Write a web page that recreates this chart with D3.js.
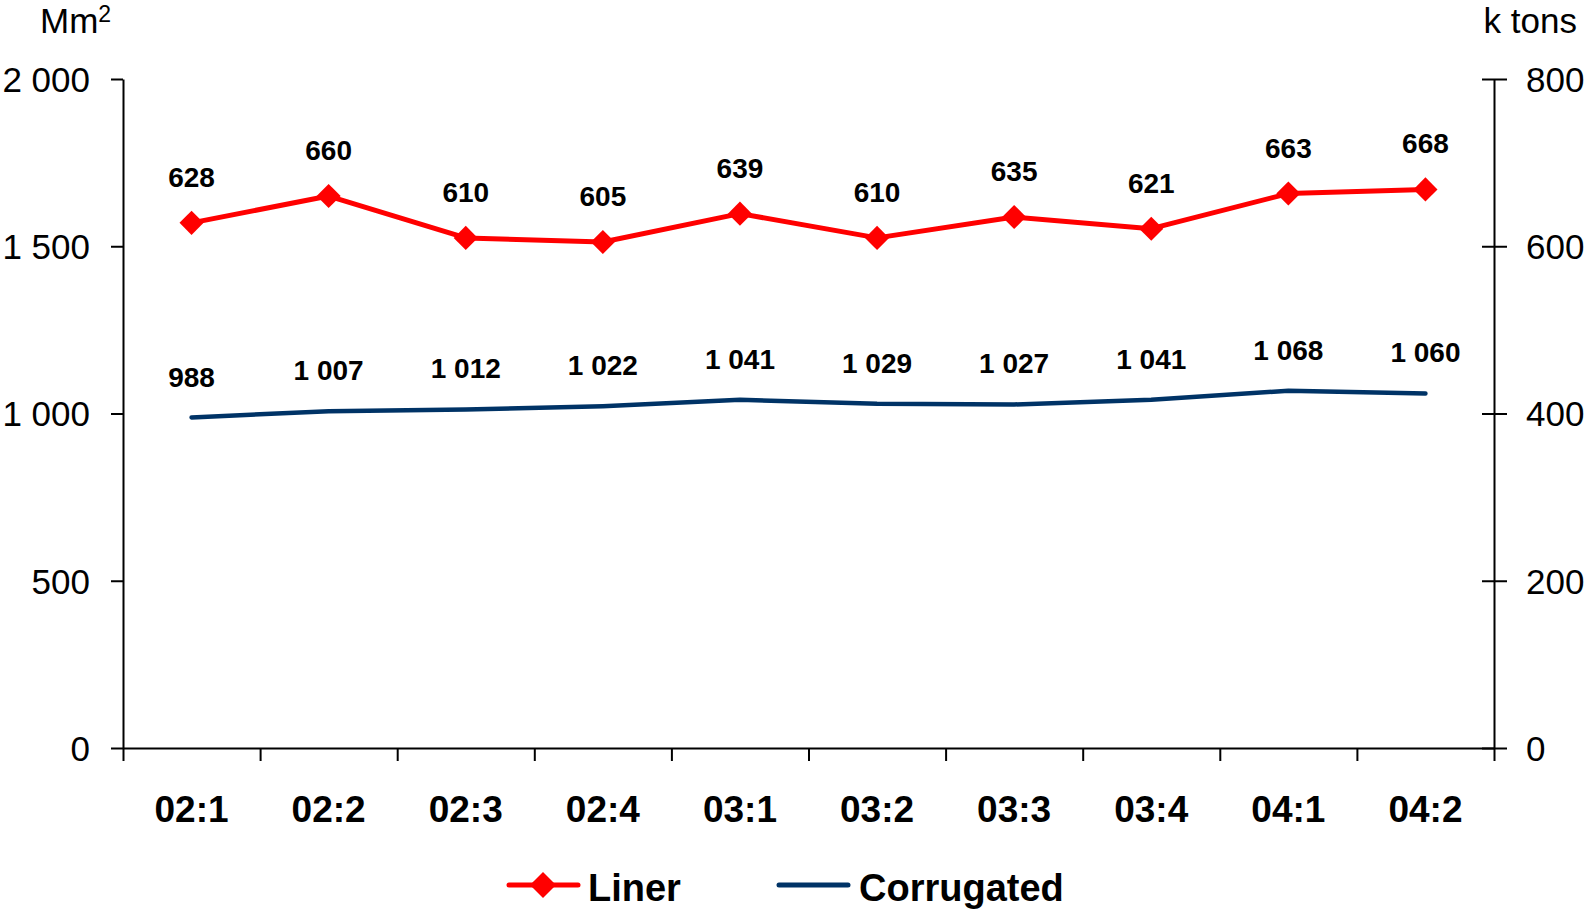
<!DOCTYPE html>
<html>
<head>
<meta charset="utf-8">
<script src="https://cdn.jsdelivr.net/npm/d3@7"></script>
<style>
  html, body { margin: 0; padding: 0; background: #fff; }
  svg { display: block; font-family: "Liberation Sans", Arial, sans-serif; }
</style>
</head>
<body>
<div id="chart"></div>
<script>
// Data
const categories = ['02:1', '02:2', '02:3', '02:4', '03:1', '03:2', '03:3', '03:4', '04:1', '04:2'];
const liner = [628, 660, 610, 605, 639, 610, 635, 621, 663, 668];           // k tons, right axis
const corrugated = [988, 1007, 1012, 1022, 1041, 1029, 1027, 1041, 1068, 1060]; // Mm2, left axis
const leftTicks = [0, 500, 1000, 1500, 2000];
const rightTicks = [0, 200, 400, 600, 800];

const W = 1586, H = 910;
const margin = { top: 79, right: 92, bottom: 162, left: 123 };
const width = W - margin.left - margin.right;
const height = H - margin.top - margin.bottom;

const RED = '#ff0000';
const NAVY = '#003366';

const fmt = d3.formatLocale({ decimal: ',', thousands: ' ', grouping: [3], currency: ['', ''] }).format(',d');

const svg = d3.select('#chart').append('svg')
    .attr('width', W)
    .attr('height', H);

const g = svg.append('g')
    .attr('transform', `translate(${margin.left},${margin.top})`);

// Scales
const x = d3.scaleBand().domain(categories).range([0, width]).paddingInner(0).paddingOuter(0);
const xEdge = d3.scaleLinear().domain([0, categories.length]).range([0, width]);
const yLeft = d3.scaleLinear().domain([0, 2000]).range([height, 0]);
const yRight = d3.scaleLinear().domain([0, 800]).range([height, 0]);
const cx = d => x(d) + x.bandwidth() / 2;

function styleAxis(sel) {
    sel.selectAll('path, line').attr('stroke', '#000').attr('stroke-width', 2);
    sel.selectAll('text').attr('fill', '#000');
}

// Left axis
const leftG = g.append('g')
    .call(d3.axisLeft(yLeft).tickValues(leftTicks).tickFormat(fmt).tickSizeInner(12).tickSizeOuter(0).tickPadding(21))
    .call(styleAxis);
leftG.selectAll('text').attr('font-size', 35).attr('dy', '0.35em');
leftG.attr('font-family', null);

// Right axis (ticks cross the axis line)
const rightG = g.append('g')
    .attr('transform', `translate(${width},0)`)
    .call(d3.axisRight(yRight).tickValues(rightTicks).tickSizeInner(13).tickSizeOuter(0).tickPadding(19))
    .call(styleAxis);
rightG.selectAll('.tick line').attr('x1', -12);
rightG.selectAll('text').attr('font-size', 35).attr('dy', '0.35em');
rightG.attr('font-family', null);

// Bottom axis: ticks on category boundaries
g.append('g')
    .attr('transform', `translate(0,${height})`)
    .call(d3.axisBottom(xEdge).tickValues(d3.range(categories.length + 1)).tickFormat('').tickSizeInner(13).tickSizeOuter(0))
    .call(styleAxis);

// Category labels
const catG = g.append('g')
    .attr('transform', `translate(0,${height})`)
    .call(d3.axisBottom(x).tickSize(0).tickPadding(0));
catG.select('.domain').remove();
catG.attr('font-family', null);
catG.selectAll('text')
    .attr('fill', '#000')
    .attr('font-size', 37)
    .attr('font-weight', 'bold')
    .attr('dy', null)
    .attr('y', 74);

// Unit titles
const unitL = svg.append('text')
    .attr('x', 40).attr('y', 33)
    .attr('font-size', 35)
    .text('Mm');
unitL.append('tspan')
    .attr('font-size', 23)
    .attr('dy', -11)
    .text('2');

svg.append('text')
    .attr('x', 1577).attr('y', 33)
    .attr('text-anchor', 'end')
    .attr('font-size', 35)
    .text('k tons');

// Corrugated line (left axis)
const lineC = d3.line()
    .x((d, i) => cx(categories[i]))
    .y(d => yLeft(d));

g.append('path')
    .datum(corrugated)
    .attr('d', lineC)
    .attr('fill', 'none')
    .attr('stroke', NAVY)
    .attr('stroke-width', 4.5)
    .attr('stroke-linecap', 'round')
    .attr('stroke-linejoin', 'round');

g.append('g').selectAll('text')
    .data(corrugated)
    .join('text')
    .attr('x', (d, i) => cx(categories[i]))
    .attr('y', d => yLeft(d) - 31)
    .attr('text-anchor', 'middle')
    .attr('font-size', 28)
    .attr('font-weight', 'bold')
    .text(d => fmt(d));

// Liner line (right axis)
const lineL = d3.line()
    .x((d, i) => cx(categories[i]))
    .y(d => yRight(d));

g.append('path')
    .datum(liner)
    .attr('d', lineL)
    .attr('fill', 'none')
    .attr('stroke', RED)
    .attr('stroke-width', 5)
    .attr('stroke-linecap', 'round')
    .attr('stroke-linejoin', 'round');

const diamond = d3.symbol(d3.symbolSquare, 290);

g.append('g').selectAll('path')
    .data(liner)
    .join('path')
    .attr('d', diamond)
    .attr('transform', (d, i) => `translate(${cx(categories[i])},${yRight(d)}) rotate(45)`)
    .attr('fill', RED);

g.append('g').selectAll('text')
    .data(liner)
    .join('text')
    .attr('x', (d, i) => cx(categories[i]))
    .attr('y', d => yRight(d) - 36)
    .attr('text-anchor', 'middle')
    .attr('font-size', 28)
    .attr('font-weight', 'bold')
    .text(d => fmt(d));

// Legend (kept just inside the bottom edge)
const legend = svg.append('g');
const legY = 885;
const legBase = 901;

const l1 = legend.append('g');
l1.append('line')
    .attr('x1', 509).attr('x2', 578).attr('y1', legY).attr('y2', legY)
    .attr('stroke', RED).attr('stroke-width', 5).attr('stroke-linecap', 'round');
l1.append('path')
    .attr('d', d3.symbol(d3.symbolSquare, 340))
    .attr('transform', `translate(543,${legY}) rotate(45)`)
    .attr('fill', RED);
l1.append('text')
    .attr('x', 588).attr('y', legBase)
    .attr('font-size', 38).attr('font-weight', 'bold')
    .text('Liner');

const l2 = legend.append('g');
l2.append('line')
    .attr('x1', 779).attr('x2', 848).attr('y1', legY).attr('y2', legY)
    .attr('stroke', NAVY).attr('stroke-width', 5).attr('stroke-linecap', 'round');
l2.append('text')
    .attr('x', 859).attr('y', legBase)
    .attr('font-size', 38).attr('font-weight', 'bold')
    .text('Corrugated');
</script>
</body>
</html>
